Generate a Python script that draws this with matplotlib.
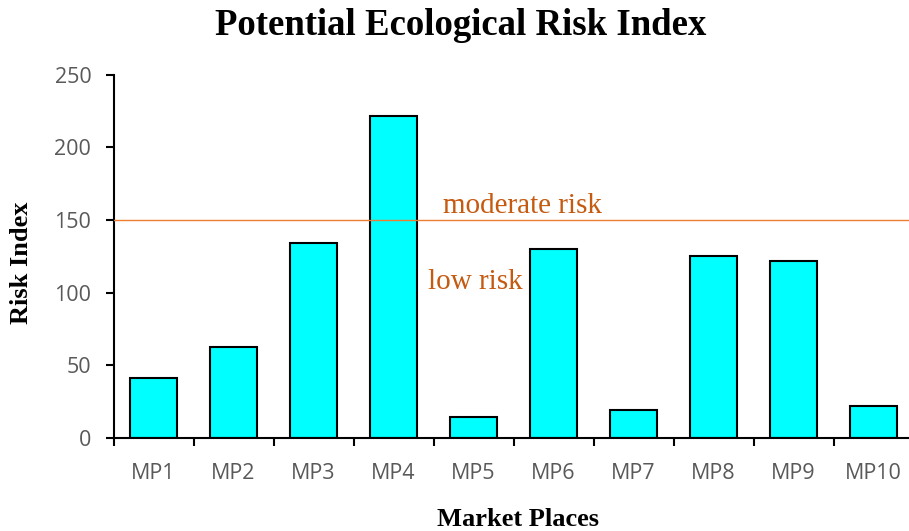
import numpy as np
import matplotlib.pyplot as plt
from matplotlib.ticker import FixedLocator, NullFormatter

places = ["MP1", "MP2", "MP3", "MP4", "MP5", "MP6", "MP7", "MP8", "MP9", "MP10"]
risk_index = [41.5, 62.4, 134.0, 221.4, 14.7, 130.0, 19.3, 125.5, 122.0, 22.0]
moderate_level = 150

fig = plt.figure(figsize=(9.09, 5.31), dpi=100)
ax = fig.add_axes([0.1249, 0.1751, 0.8801, 0.6842])

x = np.arange(len(places))
ax.bar(x, risk_index, width=0.58, color="#00FFFF", edgecolor="black", linewidth=1.5, zorder=2)

ax.set_xlim(-0.5, len(places) - 0.5)
ax.set_ylim(0, 250)
ax.set_yticks(np.arange(0, 251, 50))

# category labels centred, ticks on the category boundaries
ax.set_xticks(x)
ax.set_xticklabels(places)
ax.tick_params(axis="x", which="major", length=0, pad=18)
ax.xaxis.set_minor_locator(FixedLocator(np.arange(-0.5, len(places) - 1, 1.0)))
ax.xaxis.set_minor_formatter(NullFormatter())
ax.tick_params(axis="x", which="minor", length=6, width=1.5, direction="out")
ax.tick_params(axis="y", length=6, width=1.5, direction="out", pad=10)

for lab in ax.get_xticklabels() + ax.get_yticklabels():
    lab.set_fontfamily("Open Sans")
    lab.set_fontsize(15.5)
    lab.set_color("#595959")

for side in ["top", "right"]:
    ax.spines[side].set_visible(False)
for side in ["left", "bottom"]:
    ax.spines[side].set_linewidth(1.5)

# risk threshold
ax.axhline(moderate_level, color="#ED7D31", linewidth=1.0, zorder=3)
ax.text(3.62, 154.8, "moderate risk", family="Liberation Serif", fontsize=21, color="#C55A11")
ax.text(3.43, 102.5, "low risk", family="Liberation Serif", fontsize=21, color="#C55A11")

fig.text(0.507, 0.935, "Potential Ecological Risk Index", ha="center", va="baseline",
         family="Liberation Serif", fontweight="bold", fontsize=26.5)
fig.text(0.57, 0.01, "Market Places", ha="center", va="baseline",
         family="Liberation Serif", fontweight="bold", fontsize=19)
fig.text(0.024, 0.505, "Risk Index", ha="center", va="center", rotation=90,
         family="Liberation Serif", fontweight="bold", fontsize=19)

fig.savefig("out.png", dpi=100)
